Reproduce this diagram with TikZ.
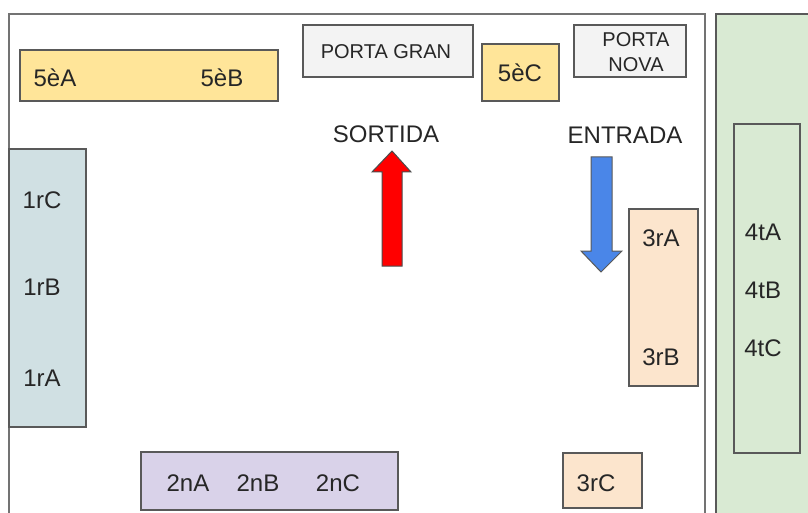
\documentclass[tikz,border=0pt]{standalone}
\usepackage{xcolor}
\usepackage{fontspec}
\setmainfont{Liberation Sans}
\usepackage{tikz}
\usetikzlibrary{arrows,shapes,positioning}

\definecolor{cinque}{HTML}{FFE599}
\definecolor{porta}{HTML}{F3F3F3}
\definecolor{primer}{HTML}{D0E0E3}
\definecolor{segon}{HTML}{D9D2E9}
\definecolor{tercer}{HTML}{FCE5CD}
\definecolor{quart}{HTML}{D9EAD3}
\definecolor{vora}{HTML}{595959}
\definecolor{blau}{HTML}{4A86E8}

\begin{document}
\begin{tikzpicture}[x=1pt,y=-1pt,
        box/.style={draw=vora, line width=1.3pt},
        lbl/.style={font=\fontsize{24}{28}\selectfont, text=black!85, inner sep=0pt},
        plbl/.style={font=\fontsize{20}{25}\selectfont, text=black!85, align=center, inner sep=0pt}]
        \useasboundingbox (0,0) rectangle (808,513);
        \clip (0,0) rectangle (808,513);

        % pati i zona del costat
        \draw[draw=black!55, line width=1.5pt] (9,14) rectangle (705,540);
        \draw[box, fill=quart] (716,14) rectangle (840,540);
        \draw[box] (734,124) rectangle (800,453);

        % files
        \draw[box, fill=cinque] (20,50) rectangle (278,101);
        \draw[box, fill=porta] (303,25) rectangle (473,77);
        \draw[box, fill=cinque] (482,44) rectangle (559,101);
        \draw[box, fill=porta] (574,25) rectangle (686,77);
        \draw[box, fill=primer] (9,149) rectangle (86,427);
        \draw[box, fill=tercer] (629,209) rectangle (698,386);
        \draw[box, fill=segon] (141,452) rectangle (398,510);
        \draw[box, fill=tercer] (563,453) rectangle (642,508);

        % fletxes
        \draw[draw=black!70, fill=red, line width=1pt] (382,266) -- (382,172) -- (372,172) -- (392,151)
            -- (411,172) -- (402,172) -- (402,266) -- cycle;
        \draw[draw=vora, fill=blau, line width=1pt] (591,157) -- (612,157) -- (612,251) -- (622,251)
            -- (601,272) -- (581,251) -- (591,251) -- cycle;

        \node[lbl] (a5) at (55,78) {5èA};
        \node[lbl] (b5) at (222,78) {5èB};
        \node[lbl] (c5) at (520,73) {5èC};
        \node[plbl] (pgran) at (386,52) {PORTA GRAN};
        \node[plbl] (pnova) at (636,52.5) {PORTA\\NOVA};
        \node[lbl] (sortida) at (386,134) {SORTIDA};
        \node[lbl] (entrada) at (625,135) {ENTRADA};

        \node[lbl] (c1) at (42,200) {1rC};
        \node[lbl] (b1) at (42,287) {1rB};
        \node[lbl] (a1) at (42,378) {1rA};

        \node[lbl] (a2) at (188,483) {2nA};
        \node[lbl] (b2) at (258,483) {2nB};
        \node[lbl] (c2) at (338,483) {2nC};

        \node[lbl] (a3) at (661,238) {3rA};
        \node[lbl] (b3) at (661,357) {3rB};
        \node[lbl] (c3) at (596,483) {3rC};

        \node[lbl] (a4) at (763,232) {4tA};
        \node[lbl] (b4) at (763,290) {4tB};
        \node[lbl] (c4) at (763,348) {4tC};

    \end{tikzpicture}
\end{document}
